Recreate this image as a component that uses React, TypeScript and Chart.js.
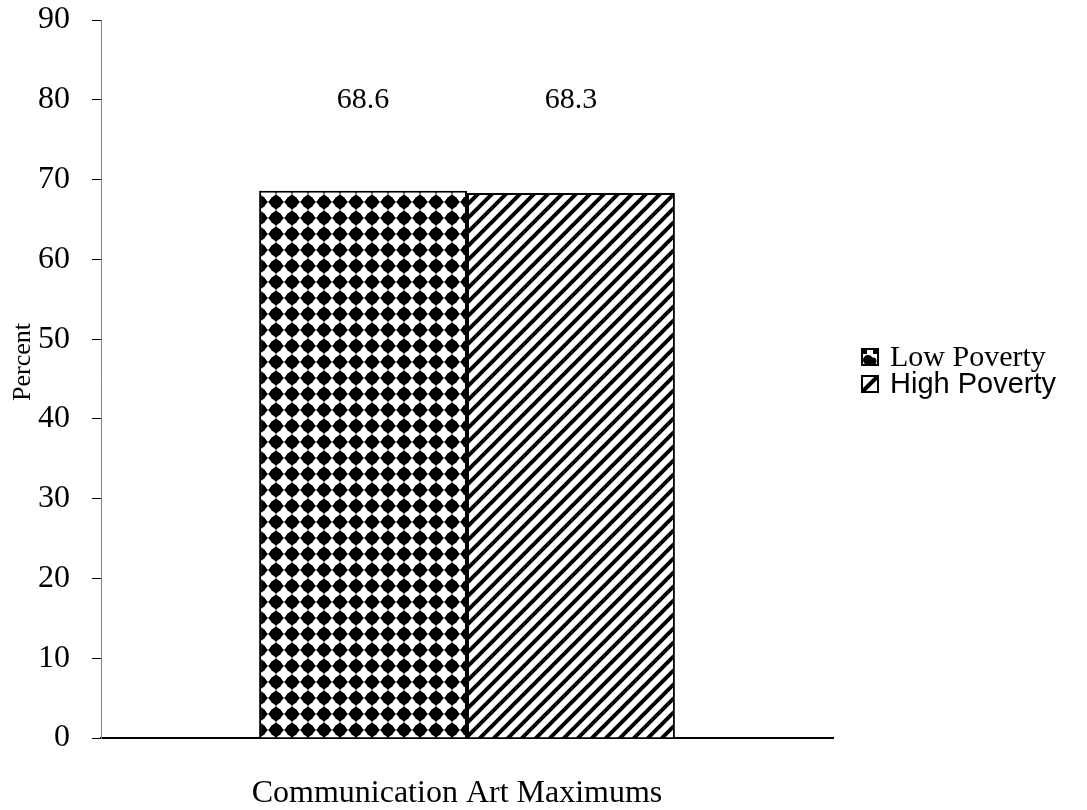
import React, { useEffect, useRef } from "react";
import { Chart, registerables } from "chart.js";

Chart.register(...registerables);

const categories = ["Communication Art Maximums"];
const seriesNames = ["Low Poverty", "High Poverty"];
const lowPoverty = [68.6];
const highPoverty = [68.3];
const yTicks = [0, 10, 20, 30, 40, 50, 60, 70, 80, 90];
const yTitle = "Percent";

const SERIF = '"Times New Roman", "Liberation Serif", serif';
const SANS = 'Arial, "Liberation Sans", sans-serif';

function diamondPattern(ctx: CanvasRenderingContext2D): CanvasPattern {
  const c = document.createElement("canvas");
  c.width = 16;
  c.height = 16;
  const g = c.getContext("2d")!;
  g.fillStyle = "#fff";
  g.fillRect(0, 0, 16, 16);
  g.fillStyle = "#000";
  g.beginPath();
  g.moveTo(8, 0);
  g.lineTo(16, 8);
  g.lineTo(8, 16);
  g.lineTo(0, 8);
  g.closePath();
  g.fill();
  g.beginPath();
  g.arc(8, 8, 6.2, 0, Math.PI * 2);
  g.fill();
  const p = ctx.createPattern(c, "repeat")!;
  try {
    p.setTransform(new DOMMatrix().translate(12, 2));
  } catch (e) {}
  return p;
}

function stripePattern(ctx: CanvasRenderingContext2D): CanvasPattern {
  const s = 14;
  const c = document.createElement("canvas");
  c.width = s;
  c.height = s;
  const g = c.getContext("2d")!;
  g.fillStyle = "#fff";
  g.fillRect(0, 0, s, s);
  g.strokeStyle = "#000";
  g.lineWidth = 4;
  g.lineCap = "square";
  const lines = [
    [0, s, s, 0],
    [-s / 2, s / 2, s / 2, -s / 2],
    [s / 2, s + s / 2, s + s / 2, s / 2],
  ];
  for (const [x1, y1, x2, y2] of lines) {
    g.beginPath();
    g.moveTo(x1, y1);
    g.lineTo(x2, y2);
    g.stroke();
  }
  return ctx.createPattern(c, "repeat")!;
}

export default function App() {
  const ref = useRef<HTMLCanvasElement | null>(null);

  useEffect(() => {
    const canvas = ref.current!;
    const ctx = canvas.getContext("2d")!;
    const pLow = diamondPattern(ctx);
    const pHigh = stripePattern(ctx);

    const overlay = {
      id: "overlay",
      afterDatasetsDraw(chart: any) {
        const c = chart.ctx as CanvasRenderingContext2D;
        const ys = chart.scales.y;
        const xs = chart.scales.x;
        c.save();
        // value labels
        c.fillStyle = "#000";
        c.font = `30px ${SERIF}`;
        c.textAlign = "center";
        c.textBaseline = "middle";
        chart.data.datasets.forEach((ds: any, i: number) => {
          const meta = chart.getDatasetMeta(i);
          meta.data.forEach((bar: any, j: number) => {
            c.fillText(String(ds.data[j].toFixed(1)), bar.x, ys.getPixelForValue(80));
          });
        });
        // category label (x title)
        c.font = `32px ${SERIF}`;
        c.textAlign = "center";
        c.textBaseline = "alphabetic";
        c.fillText(categories[0], xs.getPixelForValue(0) - 10, 802);
        // y title
        c.save();
        c.translate(23, 362);
        c.rotate(-Math.PI / 2);
        c.font = `26px ${SERIF}`;
        c.textAlign = "center";
        c.textBaseline = "middle";
        c.fillText(yTitle, 0, 0);
        c.restore();
        // legend
        const bx = 862;
        const items = [
          { y: 357, font: `30px ${SERIF}` },
          { y: 384, font: `29px ${SANS}` },
        ];
        items.forEach((it, i) => {
          const sz = 16;
          const top = it.y - sz / 2;
          c.fillStyle = "#fff";
          c.fillRect(bx, top, sz, sz);
          if (i === 0) {
            c.fillStyle = "#000";
            c.beginPath();
            c.rect(bx, top, 5, 5);
            c.rect(bx + sz - 5, top, 5, 5);
            c.fill();
            c.beginPath();
            c.arc(bx + 6, top + 11, 5, 0, Math.PI * 2);
            c.arc(bx + 11, top + 12, 3.5, 0, Math.PI * 2);
            c.fill();
          } else {
            c.strokeStyle = "#000";
            c.lineWidth = 4;
            c.beginPath();
            c.moveTo(bx + 1, top + sz - 1);
            c.lineTo(bx + sz - 1, top + 1);
            c.stroke();
          }
          c.strokeStyle = "#000";
          c.lineWidth = 2;
          c.strokeRect(bx, top, sz, sz);
          c.fillStyle = "#000";
          c.font = it.font;
          c.textAlign = "left";
          c.textBaseline = "middle";
          c.fillText(seriesNames[i], bx + 28, it.y + 1);
        });
        c.restore();
      },
    };

    const chart = new Chart(canvas, {
      type: "bar",
      data: {
        labels: categories,
        datasets: [
          {
            label: seriesNames[0],
            data: lowPoverty,
            backgroundColor: pLow,
            borderColor: "#000",
            borderWidth: 2,
            barPercentage: 1,
            categoryPercentage: 0.568,
          },
          {
            label: seriesNames[1],
            data: highPoverty,
            backgroundColor: pHigh,
            borderColor: "#000",
            borderWidth: 2,
            barPercentage: 1,
            categoryPercentage: 0.568,
          },
        ],
      },
      options: {
        responsive: false,
        animation: false,
        events: [],
        layout: { padding: { top: 20, right: 254, left: 0, bottom: 0 } },
        plugins: {
          legend: { display: false },
          tooltip: { enabled: false },
          title: { display: false },
        },
        scales: {
          x: {
            afterFit: (s: any) => {
              s.height = 72;
              s.paddingLeft = 0;
              s.paddingRight = 0;
            },
            grid: { display: false, drawTicks: false },
            border: { display: true, color: "#000", width: 2 },
            ticks: { display: false },
          },
          y: {
            min: 0,
            max: 90,
            afterFit: (s: any) => {
              s.width = 101;
              s.paddingTop = 0;
              s.paddingBottom = 0;
            },
            afterBuildTicks: (s: any) => {
              s.ticks = yTicks.map((v) => ({ value: v }));
            },
            grid: {
              drawOnChartArea: false,
              drawTicks: true,
              tickLength: 9,
              color: "#000",
            },
            border: { display: true, color: "#808080", width: 1 },
            ticks: {
              color: "#000",
              font: { family: SERIF, size: 32 },
              padding: 22,
            },
          },
        },
      },
      plugins: [overlay],
    } as any);

    return () => chart.destroy();
  }, []);

  return (
    <div style={{ position: "fixed", left: 0, top: 0, width: 1087, height: 810, background: "#fff" }}>
      <canvas ref={ref} width={1087} height={810} style={{ display: "block", width: 1087, height: 810 }} />
    </div>
  );
}
